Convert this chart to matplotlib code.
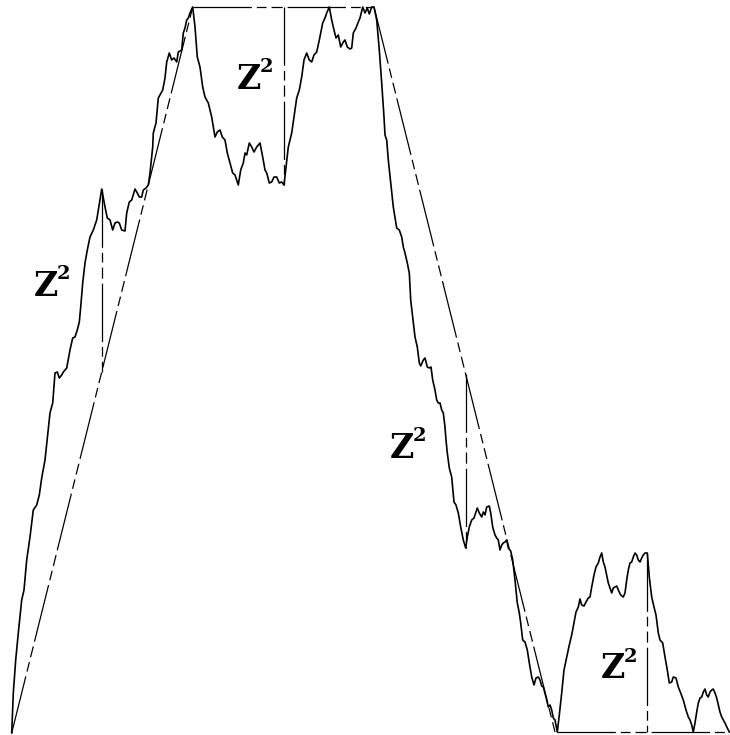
import matplotlib
matplotlib.use('Agg')
import matplotlib.pyplot as plt
import numpy as np

plt.rcParams['lines.scale_dashes'] = False

# Curve (x to the right, y downward, pixel units)
curve_x = [
    11.7, 13.3, 15.7, 18.3, 21.7, 24, 26.7, 30, 33.3, 36.7, 39.3, 41.7, 45, 50, 52.7, 55,
    57.3, 59.3, 61.7, 63.3, 66.7, 70, 72.7, 75, 77.3, 79.3, 80.7, 82.7, 85, 87.3, 90, 93.3,
    96.7, 98.3, 101.7, 105, 107.3, 110, 112.7, 115, 117.3, 119.3, 121.7, 125, 126.7, 129.3,
    131.7, 135, 137.3, 139.3, 141.7, 143.3, 146, 148.3, 150, 152.7, 153.3, 156, 158.3, 162.7,
    165, 166.7, 169.3, 171.7, 174, 176.7, 178.3, 181.7, 183.3, 185, 186.7, 188.3, 190, 192.7,
    # top dip
    195, 197.3, 200, 202.7, 205, 208.3, 211.7, 215, 217.3, 220, 222.3, 225, 227.3, 230, 232.7,
    235, 238.3, 240.7, 243.3, 245, 246.7, 249.3, 251.7, 254, 256.7, 260, 262.7, 265, 266.7,
    269.3, 271.7, 274, 276.7, 279.3, 281.7, 284, 286, 288.3, 291.7, 295, 296.7, 299.3, 301.7,
    304, 306.7, 309.3, 311.7, 314, 316.7, 319.3, 322.7, 325, 326.7, 329.3, 331.7, 334, 336,
    338.3, 340.7, 343.3, 345, 347.3, 350, 351.7, 353.3, 356, 358.3, 360, 362.7, 365, 367.3,
    369.3, 371.7, 374,
    # descent
    376.7, 379.3, 381.7, 384, 385, 386.7, 388.3, 390.7, 393.3, 396.7, 399.3, 401.7, 403.3,
    405, 407.3, 409.3, 410.7, 412.7, 415, 417.3, 419.3, 420.7, 423.3, 425, 427.3, 429.3, 431,
    432.7, 435, 436.7, 438.3, 440, 441.7, 443.3, 445, 446, 447.3, 449.3, 451.7, 452.7, 454,
    456, 458.3, 460.7, 463.3, 465.7, 467.3, 469.3, 471.7, 474, 476, 477.3, 479.3, 481.7, 483.3,
    485, 486.7, 489.3, 490.7, 492.7, 495, 496.7, 498.3, 500, 501.7, 503.3, 505, 506.7, 508.3,
    510.7, 512.7, 515, 517.3, 519.3, 520.7, 522.7, 525, 527.3, 529.3, 531.7, 534, 536, 538.3,
    540, 541.7, 543.3, 546, 548.3,
    # bottom bump
    550, 551.7, 553.3, 555, 557.3, 559.3, 561.7, 564, 566.7, 569.3, 571.7, 574, 576, 578.3,
    580, 581.7, 584, 586, 588.3, 590, 591.7, 594, 596, 598.3, 600, 601.7, 603.3, 605, 606.7,
    608.3, 610, 611.7, 613.3, 615, 616.7, 618.3, 620.7, 623.3, 625, 626.7, 628.3, 630, 631.7,
    633.3, 635, 636.7, 638.3, 640, 641.7, 643.3, 645, 647.3, 649.3, 651.7, 654, 656, 658.3,
    660, 662.7, 665, 667.3, 669.3, 671.7, 673.3, 676, 678.3, 680.7, 683.3, 686, 688.3, 690,
    691.7, 693.3, 695, 696.7, 698.3, 700, 701.7, 703.3, 705, 706.7, 708.3, 710, 711.7, 713.3,
    715, 716.7, 718.3, 720, 721.7, 723.3, 725, 727.3, 729.3,
]
curve_y = [
    733, 693, 660, 633, 600, 590, 560, 537, 510, 505, 495, 478, 460, 413, 403, 373,
    372, 378, 375, 372, 368, 350, 338, 337, 330, 322, 307, 283, 263, 250, 237, 230,
    220, 210, 189, 207, 218, 220, 230, 223, 222, 223, 230, 231, 213, 202,
    200, 189, 193, 197, 197, 190, 188, 185, 173, 147, 133, 123, 98, 90,
    78, 62, 53, 60, 58, 62, 52, 50, 33, 28, 20, 18, 13, 7,
    27, 57, 67, 87, 97, 103, 117, 137, 132, 130, 137, 140, 153, 163, 173,
    175, 185, 170, 163, 153, 155, 143, 147, 152, 147, 143, 157, 170, 173,
    183, 182, 177, 177, 183, 182, 185, 167, 147, 133, 110, 98, 90, 77,
    60, 53, 60, 62, 55, 52, 40, 23, 18, 13, 7, 20, 30, 38,
    35, 47, 42, 40, 47, 49, 48, 33, 28, 22, 18, 7, 13, 8,
    14, 7, 7,
    20, 50, 83, 117, 135, 140, 160, 183, 207, 228, 230, 237, 247,
    253, 263, 273, 300, 317, 337, 347, 363, 366, 360, 358, 367, 368, 367,
    380, 390, 400, 403, 403, 410, 413, 427, 440, 453, 468, 477, 488, 502,
    505, 513, 527, 540, 548, 537, 527, 520, 518, 512, 508, 513, 517, 512,
    515, 507, 506, 513, 527, 535, 538, 540, 550, 545, 543, 542, 540, 548,
    551, 560, 580, 603, 613, 623, 640, 642, 650, 663, 677, 685, 678, 677,
    680, 686, 687, 697, 707,
    705, 710, 718, 720, 732, 715, 693, 670, 657, 645, 635, 623, 612, 607,
    599, 605, 606, 602, 598, 597, 587, 575, 567, 563, 557, 553, 562, 567, 575,
    583, 588, 593, 588, 587, 586, 590, 595, 597, 593, 580, 570, 563, 562,
    557, 553, 555, 560, 562, 558, 555, 553, 553, 577, 597, 607, 615, 633,
    640, 643, 657, 670, 683, 682, 677, 678, 687, 693, 700, 710, 717, 720,
    725, 732, 723, 712, 703, 698, 697, 692, 689, 695, 697, 692, 690, 689,
    693, 698, 705, 712, 717, 720, 723, 728, 732,
]

# Chords (dash-dot) between turning points
chord_x = [[11.7, 192.7], [192.7, 374], [374, 555], [557.3, 730]]
chord_y = [[733, 7], [7, 7], [7, 732], [732, 732]]

# Vertical "Z^2" gaps
gap_x = [101.7, 284, 465.7, 647]
gap_top = [189, 7, None, 553]
gap_bottom = [None, 185, 548, 732]

label_x = [46, 249, 402, 613]
label_y = [286, 79, 448, 669]

fig = plt.figure(figsize=(7.3, 7.35), dpi=100)
ax = fig.add_axes([0, 0, 1, 1])
ax.set_xlim(0, 730)
ax.set_ylim(735, 0)
ax.axis('off')

# long dash, gap, short dash, gap, short dash, gap  (points)
dash = (0, (42, 3.6, 7, 3.6, 8, 3.6))
ax.plot(curve_x, curve_y, color='black', lw=1.2, solid_joinstyle='round')
for cx, cy in zip(chord_x, chord_y):
    ax.plot(cx, cy, color='black', lw=0.9, linestyle=dash)

for i, x in enumerate(gap_x):
    cx, cy = chord_x[i], chord_y[i]
    top = gap_top[i] if gap_top[i] is not None else np.interp(x, cx, cy)
    bot = gap_bottom[i] if gap_bottom[i] is not None else np.interp(x, cx, cy)
    ax.plot([x, x], [top, bot], color='black', lw=0.9, linestyle=dash)

for x, y in zip(label_x, label_y):
    ax.text(x, y, 'Z', family='DejaVu Serif', weight='bold', fontsize=24,
            ha='center', va='center')
    ax.text(x + 10.5, y - 12, '2', family='DejaVu Serif', weight='bold', fontsize=14,
            ha='left', va='center')

fig.savefig('out.png', dpi=100)
